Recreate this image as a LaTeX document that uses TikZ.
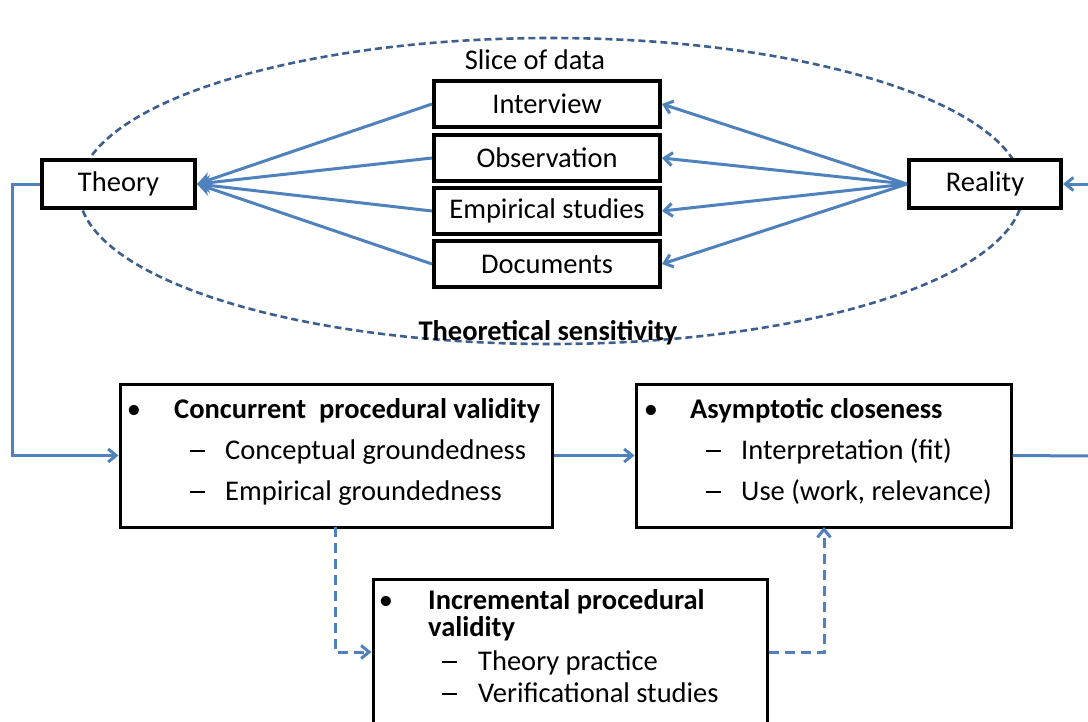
\documentclass[tikz,border=0pt]{standalone}
\usepackage{fontspec}
\setmainfont{Carlito}
\usetikzlibrary{arrows.meta}
\definecolor{arrowblue}{HTML}{4F81BD}
\definecolor{ellblue}{HTML}{3D5F8F}
\newcommand{\mydash}{\raisebox{7pt}{\rule{15pt}{2.2pt}}}
\begin{document}
\begin{tikzpicture}[x=1pt,y=-1pt,
  txt/.style={font=\fontsize{28.5}{32}\selectfont, inner sep=0pt},
  smallbox/.style={draw=black, line width=4pt, fill=white, inner sep=0pt, font=\fontsize{28.5}{32}\selectfont},
  bigbox/.style={draw=black, line width=3pt, fill=white, inner sep=0pt},
  conn/.style={draw=arrowblue, line width=3pt},
  dconn/.style={draw=arrowblue, line width=3pt, dash pattern=on 10pt off 6pt},
  bar/.style={-{Straight Barb[length=8pt,width=13pt,line width=3pt]}},
  tri/.style={-{Stealth[length=14pt,width=15pt]}},
]
\useasboundingbox (0,0) rectangle (1088,721);
% ellipse
\draw[ellblue, line width=2.6pt, dash pattern=on 7pt off 4pt] (551,191) ellipse [x radius=472pt, y radius=153pt];
\node[txt] (slice) at (535,60) {Slice of data};
\node[txt, font=\fontsize{28.5}{32}\selectfont\bfseries] (sens) at (548,333) {Theoretical sensitivity};

% small boxes
\node[smallbox, minimum width=153pt, minimum height=48pt] (theory) at (118.5,184) {Theory};
\node[smallbox, minimum width=152pt, minimum height=48pt] (reality) at (985,184) {Reality};
\node[smallbox, minimum width=226pt, minimum height=46pt] (interview) at (547,104) {Interview};
\node[smallbox, minimum width=226pt, minimum height=46pt] (observation) at (547,158) {Observation};
\node[smallbox, minimum width=226pt, minimum height=46pt] (empirical) at (547,211) {Empirical studies};
\node[smallbox, minimum width=226pt, minimum height=46pt] (documents) at (547,264) {Documents};

% connectors theory
\foreach \b in {interview,observation,empirical,documents}{
  \draw[conn, tri] (\b.west) -- (theory.east);
  \draw[conn, bar] (reality.west) -- (\b.east);
}
\coordinate (rin) at (1090,184);
\draw[conn, bar] (rin) -- (reality.east);

% big boxes
\node[bigbox, minimum width=432pt, minimum height=143pt] (b1) at (336,455.5) {};
\node[bigbox, minimum width=375pt, minimum height=143pt] (b2) at (823.5,455.5) {};
\node[bigbox, minimum width=394pt, minimum height=170pt] (b3) at (570,664) {};

% box1 text
\node[txt, anchor=base] (b1bul) at (134,418) {\textbullet};
\node[txt, anchor=base west] (b1h) at (174,418) {\bfseries Concurrent\ \ procedural validity};
\node[txt, anchor=base] (b1d1) at (197,459) {\mydash};
\node[txt, anchor=base west] (b1t1) at (225,459) {Conceptual groundedness};
\node[txt, anchor=base] (b1d2) at (197,500) {\mydash};
\node[txt, anchor=base west] (b1t2) at (225,500) {Empirical groundedness};

% box2 text
\node[txt, anchor=base] (b2bul) at (651,418) {\textbullet};
\node[txt, anchor=base west] (b2h) at (690,418) {\bfseries Asymptotic closeness};
\node[txt, anchor=base] (b2d1) at (713,459) {\mydash};
\node[txt, anchor=base west] (b2t1) at (741,459) {Interpretation (fit)};
\node[txt, anchor=base] (b2d2) at (713,500) {\mydash};
\node[txt, anchor=base west] (b2t2) at (741,500) {Use (work, relevance)};

% box3 text
\node[txt, anchor=base] (b3bul) at (386,609) {\textbullet};
\node[txt, anchor=base west] (b3h1) at (428,609) {\bfseries Incremental procedural};
\node[txt, anchor=base west] (b3h2) at (428,636) {\bfseries validity};
\node[txt, anchor=base] (b3d1) at (449,670) {\mydash};
\node[txt, anchor=base west] (b3t1) at (478,670) {Theory practice};
\node[txt, anchor=base] (b3d2) at (449,702) {\mydash};
\node[txt, anchor=base west] (b3t2) at (478,702) {Verificational studies};

% flow connectors
\draw[conn, bar] (theory.west) -- (12,184) |- (b1.west);
\draw[conn, bar] (b1.east) -- (b2.west);
\coordinate (b2out) at (1090,456);
\draw[conn] (b2.east) -- (b2out);
\draw[dconn, bar] (335,527) -- (335,652) -- (b3.west |- 0,652);
\draw[dconn, bar] (b3.east |- 0,652) -- (824,652) -- (824,527);
\end{tikzpicture}
\end{document}
